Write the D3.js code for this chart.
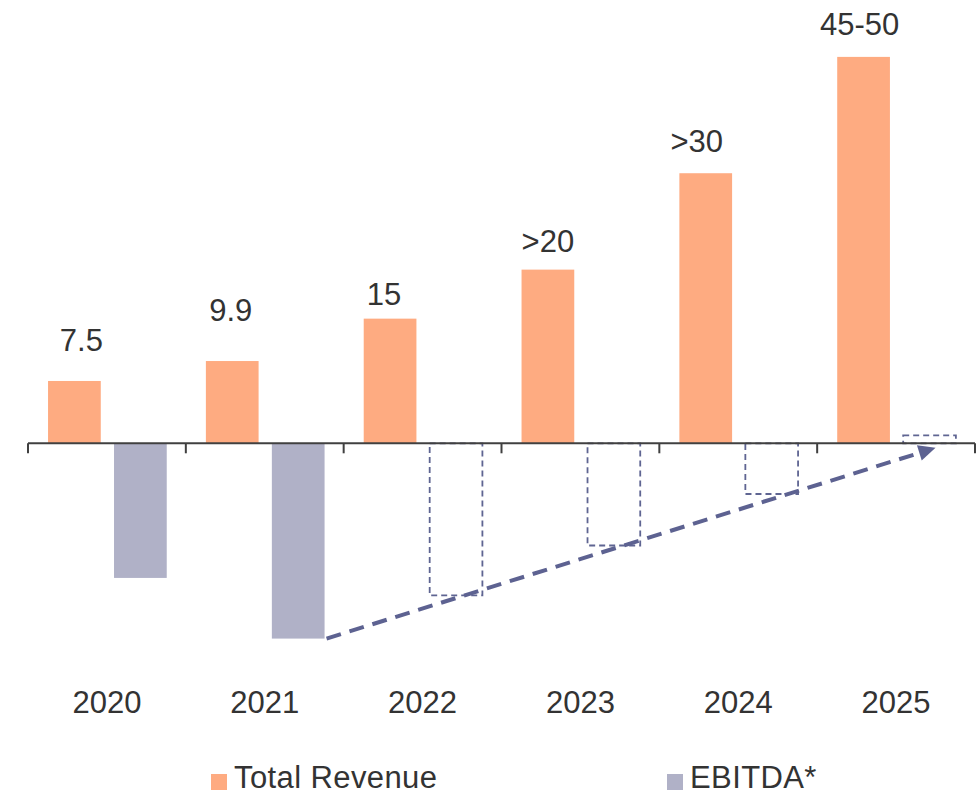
<!DOCTYPE html>
<html>
<head>
<meta charset="utf-8">
<script src="https://cdn.jsdelivr.net/npm/d3@7"></script>
<style>
  html, body { margin: 0; padding: 0; background: #ffffff; }
  svg { display: block; }
  text { font-family: "Liberation Sans", Arial, sans-serif; fill: #333333; }
</style>
</head>
<body>
<svg id="chart" width="976" height="795"></svg>
<script>
// Revenue and EBITDA by year (EUR m); 2022 onwards are targets
const years = ["2020", "2021", "2022", "2023", "2024", "2025"];
const revenue = [7.5, 9.9, 15, 20.9, 32.5, 46.5];
const revenueLabels = ["7.5", "9.9", "15", ">20", ">30", "45-50"];
const ebitda = [-16.2, -23.5, -18.3, -12.3, -6.1, 0.95];
const ebitdaActual = [true, true, false, false, false, false];
const seriesNames = ["Total Revenue", "EBITDA*"];

// small per-label placement tweaks [dx, dy above bar top]
const labelShift = [[7, 30], [-1.5, 40], [-6, 14], [0, 18], [-9, 21], [-4, 22]];

const colors = { revenue: "#FEAB81", ebitda: "#B0B1C7", dash: "#5D6291", axis: "#404040" };
const fontSize = 31;

const svg = d3.select("#chart");

const x = d3.scaleBand().domain(years).range([28, 975]).padding(0);
const y = d3.scaleLinear().domain([-30, 50]).range([692.6, 27.8]);
const bw = x.bandwidth();
const barW = bw * 0.334;
const revOff = bw * 0.127;
const ebOff = bw * 0.545;

// revenue bars
svg.append("g").selectAll("rect")
  .data(years)
  .join("rect")
  .attr("x", d => x(d) + revOff)
  .attr("y", (d, i) => y(revenue[i]))
  .attr("width", barW)
  .attr("height", (d, i) => y(0) - y(revenue[i]))
  .attr("fill", colors.revenue);

// EBITDA bars: solid for reported years, dashed outline for targets
svg.append("g").selectAll("rect")
  .data(years)
  .join("rect")
  .attr("x", d => x(d) + ebOff)
  .attr("y", (d, i) => y(Math.max(0, ebitda[i])))
  .attr("width", barW)
  .attr("height", (d, i) => Math.abs(y(ebitda[i]) - y(0)))
  .attr("fill", (d, i) => ebitdaActual[i] ? colors.ebitda : "none")
  .attr("stroke", (d, i) => ebitdaActual[i] ? "none" : "#5F6592")
  .attr("stroke-width", 1.8)
  .attr("stroke-dasharray", "6,4");

// baseline with boundary ticks
const axisG = svg.append("g").attr("transform", `translate(0,${y(0)})`);
axisG.append("line")
  .attr("x1", x.range()[0]).attr("x2", x.range()[1])
  .attr("stroke", colors.axis).attr("stroke-width", 2);
const bounds = years.map(d => x(d)).concat([x.range()[1]]);
axisG.selectAll("line.tick")
  .data(bounds)
  .join("line")
  .attr("class", "tick")
  .attr("x1", d => d).attr("x2", d => d)
  .attr("y1", 0).attr("y2", 10)
  .attr("stroke", colors.axis).attr("stroke-width", 2);

// year labels
svg.append("g").selectAll("text")
  .data(years)
  .join("text")
  .attr("x", d => x(d) + bw / 2)
  .attr("y", 713)
  .attr("text-anchor", "middle")
  .attr("font-size", fontSize)
  .text(d => d);

// revenue value labels
svg.append("g").selectAll("text")
  .data(years)
  .join("text")
  .attr("x", (d, i) => x(d) + revOff + barW / 2 + labelShift[i][0])
  .attr("y", (d, i) => y(revenue[i]) - labelShift[i][1])
  .attr("text-anchor", "middle")
  .attr("font-size", fontSize)
  .text((d, i) => revenueLabels[i]);

// trend arrow from the 2021 EBITDA low towards break-even in 2025
const start = [x("2021") + ebOff + barW + 2, y(ebitda[1])];
const tip = [x("2025") + bw * 0.75, y(-0.55)];
const ang = Math.atan2(tip[1] - start[1], tip[0] - start[0]);
const headLen = 17, headHalf = 8;
const base = [tip[0] - headLen * Math.cos(ang), tip[1] - headLen * Math.sin(ang)];
svg.append("line")
  .attr("x1", start[0]).attr("y1", start[1])
  .attr("x2", base[0] + 3 * Math.cos(ang)).attr("y2", base[1] + 3 * Math.sin(ang))
  .attr("stroke", colors.dash)
  .attr("stroke-width", 4)
  .attr("stroke-dasharray", "15,9");
const nx = -Math.sin(ang), ny = Math.cos(ang);
svg.append("polygon")
  .attr("points", [
    tip,
    [base[0] + nx * headHalf, base[1] + ny * headHalf],
    [base[0] - nx * headHalf, base[1] - ny * headHalf]
  ].map(p => p.join(",")).join(" "))
  .attr("fill", colors.dash);

// legend
const legend = svg.append("g");
const legendX = [211, 667];
const legendColors = [colors.revenue, colors.ebitda];
seriesNames.forEach((name, i) => {
  legend.append("rect")
    .attr("x", legendX[i]).attr("y", 774)
    .attr("width", 16).attr("height", 16)
    .attr("fill", legendColors[i]);
  legend.append("text")
    .attr("x", legendX[i] + 23).attr("y", 788)
    .attr("font-size", fontSize)
    .attr("letter-spacing", 0.4)
    .text(name);
});
</script>
</body>
</html>
